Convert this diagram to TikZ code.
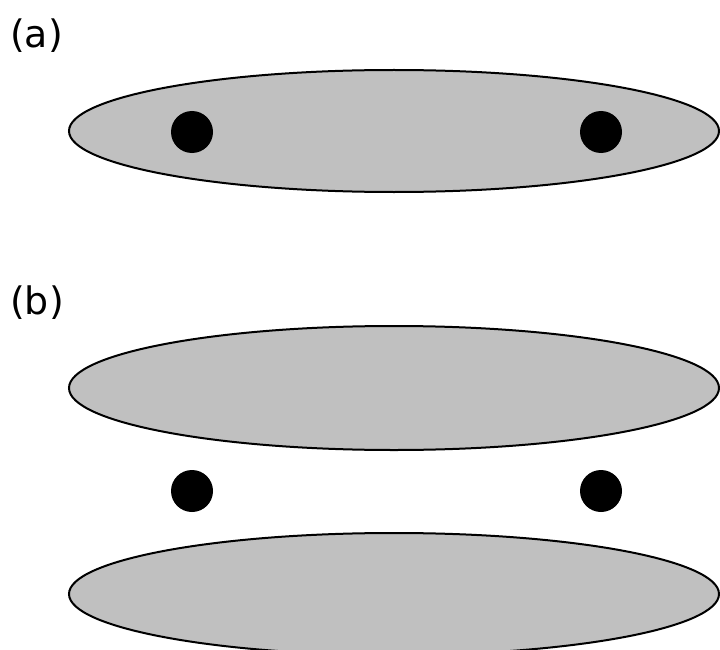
\documentclass[tikz,border=0pt]{standalone}
\usepackage{fontspec}
\setmainfont{DejaVu Sans}
\begin{document}
\begin{tikzpicture}[x=1bp,y=-1bp,
  blob/.style={draw=black,line width=2bp,fill=blobgray},
  particle/.style={fill=black},
  panellabel/.style={anchor=base west,inner sep=0pt,font=\fontsize{38}{44}\selectfont}]
\definecolor{blobgray}{HTML}{C0C0C0}
\useasboundingbox (0,0) rectangle (720,650);
\clip (0,0) rectangle (720,650);

% panel (a): one elongated cloud holding both particles
\node[panellabel] (la) at (10,48) {(a)};
\draw[blob] (394,131) ellipse [x radius=325, y radius=61];
\fill[particle] (192,132) circle [radius=21];
\fill[particle] (601,132) circle [radius=21];

% panel (b): two clouds with the particles between them
\node[panellabel] (lb) at (10,314) {(b)};
\draw[blob] (394,388) ellipse [x radius=325, y radius=62];
\fill[particle] (192,491) circle [radius=21];
\fill[particle] (601,491) circle [radius=21];
\draw[blob] (394,594) ellipse [x radius=325, y radius=61];
\end{tikzpicture}
\end{document}
